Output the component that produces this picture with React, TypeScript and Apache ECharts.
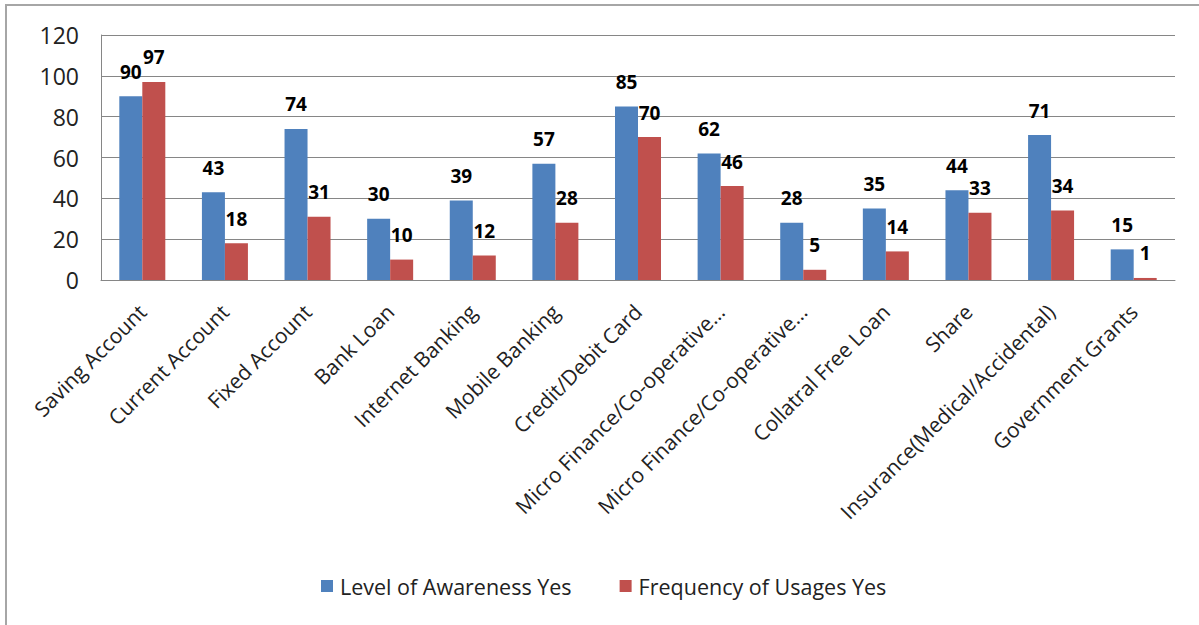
import React, { useEffect, useRef } from "react";
import * as echarts from "echarts";

const categories = [
  "Saving Account",
  "Current Account",
  "Fixed Account",
  "Bank Loan",
  "Internet Banking",
  "Mobile Banking",
  "Credit/Debit Card",
  "Micro Finance/Co-operative…",
  "Micro Finance/Co-operative…",
  "Collatral Free Loan",
  "Share",
  "Insurance(Medical/Accidental)",
  "Government Grants",
];
const awareness = [90, 43, 74, 30, 39, 57, 85, 62, 28, 35, 44, 71, 15];
const usage = [97, 18, 31, 10, 12, 28, 70, 46, 5, 14, 33, 34, 1];
const seriesNames = ["Level of Awareness Yes", "Frequency of Usages Yes"];

const FONT = "'Open Sans', 'Liberation Sans', sans-serif";

export default function App() {
  const ref = useRef<HTMLDivElement>(null);
  useEffect(() => {
    if (!ref.current) return;
    const chart = echarts.init(ref.current, null, { renderer: "svg" });
    const label = {
      show: true,
      position: "top",
      distance: 15,
      color: "#000",
      fontSize: 19,
      fontWeight: "bold",
      fontFamily: FONT,
    };
    chart.setOption({
      animation: false,
      backgroundColor: "#fff",
      graphic: [
        {
          type: "rect",
          shape: { x: 6, y: 5, width: 1250, height: 700 },
          style: { fill: "none", stroke: "#a6a6a6", lineWidth: 2 },
          silent: true,
        },
      ],
      grid: { left: 101, right: 24, top: 35, bottom: 345, containLabel: false },
      legend: {
        top: 570,
        left: 316,
        itemWidth: 12,
        itemHeight: 12,
        itemGap: 48,
        icon: "rect",
        textStyle: { fontSize: 21.5, color: "#222", fontFamily: FONT, padding: [0, 0, 0, 2] },
        data: seriesNames,
      },
      xAxis: {
        type: "category",
        data: categories,
        axisLine: { lineStyle: { color: "#868686" } },
        axisTick: { show: false },
        axisLabel: {
          rotate: 45,
          interval: 0,
          fontSize: 21,
          color: "#222",
          fontFamily: FONT,
          margin: 28,
        },
      },
      yAxis: {
        type: "value",
        min: 0,
        max: 120,
        interval: 20,
        axisLine: { show: true, lineStyle: { color: "#868686" } },
        axisTick: { show: false },
        splitLine: { lineStyle: { color: "#868686" } },
        axisLabel: { fontSize: 23, color: "#222", fontFamily: FONT, margin: 22 },
      },
      series: [
        {
          name: seriesNames[0],
          type: "bar",
          data: awareness,
          barWidth: 23,
          barGap: "0%",
          itemStyle: { color: "#4F81BD" },
          label,
        },
        {
          name: seriesNames[1],
          type: "bar",
          data: usage,
          barWidth: 23,
          itemStyle: { color: "#C0504D" },
          label,
        },
      ],
    });
    return () => chart.dispose();
  }, []);
  return (
    <div
      ref={ref}
      style={{ position: "absolute", left: 0, top: 0, width: 1199, height: 625 }}
    />
  );
}
